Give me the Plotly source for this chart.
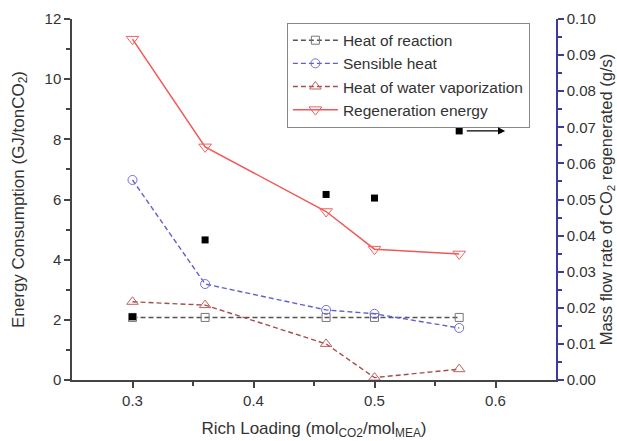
import plotly.graph_objects as go

loading = [0.3, 0.36, 0.46, 0.5, 0.57]
heat_reaction = [2.08, 2.08, 2.08, 2.08, 2.08]
sensible_heat = [6.65, 3.19, 2.33, 2.2, 1.73]
water_vap = [2.6, 2.49, 1.2, 0.08, 0.36]
regen_energy = [11.33, 7.75, 5.6, 4.35, 4.19]
mass_flow = [0.0175, 0.0388, 0.0514, 0.0504, 0.069]

font = "Liberation Sans, Arial, sans-serif"
fig = go.Figure()

dash = "5px,3px"
fig.add_trace(go.Scatter(x=loading, y=heat_reaction, name="Heat of reaction",
    mode="lines+markers", line=dict(color="#555555", dash=dash, width=1.4),
    marker=dict(symbol="square-open", size=8, color="#777777")))
fig.add_trace(go.Scatter(x=loading, y=sensible_heat, name="Sensible heat",
    mode="lines+markers", line=dict(color="#6060d0", dash=dash, width=1.4),
    marker=dict(symbol="circle-open", size=9, color="#7070d8")))
fig.add_trace(go.Scatter(x=loading, y=water_vap, name="Heat of water vaporization",
    mode="lines+markers", line=dict(color="#a84c4c", dash=dash, width=1.4),
    marker=dict(symbol="triangle-up-open", size=10, color="#c06060")))
fig.add_trace(go.Scatter(x=loading, y=regen_energy, name="Regeneration energy",
    mode="lines+markers", line=dict(color="#f05858", width=1.5),
    marker=dict(symbol="triangle-down-open", size=11, color="#f06060")))
fig.add_trace(go.Scatter(x=loading, y=mass_flow, name="Mass flow", yaxis="y2",
    mode="markers", showlegend=False,
    marker=dict(symbol="square", size=7, color="black")))

fig.add_annotation(x=0.608, y=mass_flow[-1], xref="x", yref="y2",
    ax=0.575, ay=mass_flow[-1], axref="x", ayref="y2",
    showarrow=True, arrowhead=2, arrowsize=1.2, arrowwidth=1.2, arrowcolor="black", text="")

tickfont = dict(family=font, size=15, color="#333333")
titlefont = dict(family=font, size=17, color="#333333")
axis_common = dict(showline=True, linecolor="#444444", linewidth=1.5, automargin=False,
                   tickfont=tickfont, showgrid=False, zeroline=False)

fig.update_layout(
    width=617, height=441,
    margin=dict(l=72, r=61, t=19, b=61),
    paper_bgcolor="white", plot_bgcolor="white",
    font=dict(family=font, color="#333333"),
    xaxis=dict(range=[0.25, 0.65], tickvals=[0.3, 0.4, 0.5, 0.6], ticktext=["0.3", "0.4", "0.5", "0.6"],
               ticks="outside", ticklen=6, tickwidth=1.5, tickcolor="#444444",
               minor=dict(tickvals=[0.35, 0.45, 0.55], ticks="outside", ticklen=4, tickcolor="#444444"),
               title=dict(text="Rich Loading (mol<sub>CO2</sub>/mol<sub>MEA</sub>)",
                          font=titlefont, standoff=14),
               **axis_common),
    xaxis2=dict(range=[0.25, 0.65], overlaying="x", side="top", tickvals=[0.3, 0.4, 0.5, 0.6],
                showticklabels=False, ticks="inside", ticklen=6, tickwidth=1.5, tickcolor="#444444",
                minor=dict(tickvals=[0.35, 0.45, 0.55], ticks="inside", ticklen=4, tickcolor="#444444"),
                showline=True, linecolor="#444444", linewidth=1.5, showgrid=False, zeroline=False,
                automargin=False),
    yaxis=dict(range=[0, 12], tickvals=[0, 2, 4, 6, 8, 10, 12],
               ticks="outside", ticklen=6, tickwidth=1.5, tickcolor="#444444",
               minor=dict(tickvals=[1, 3, 5, 7, 9, 11], ticks="outside", ticklen=4, tickcolor="#444444"),
               title=dict(text="Energy Consumption (GJ/tonCO<sub>2</sub>)",
                          font=titlefont, standoff=16),
               **axis_common),
    yaxis2=dict(range=[0, 0.10], overlaying="y", side="right", anchor="x", automargin=False,
                tickvals=[0, 0.01, 0.02, 0.03, 0.04, 0.05, 0.06, 0.07, 0.08, 0.09, 0.10],
                ticktext=["0.00", "0.01", "0.02", "0.03", "0.04", "0.05", "0.06", "0.07", "0.08", "0.09", "0.10"],
                ticks="outside", ticklen=6, tickwidth=1.5, tickcolor="#3a3aa0",
                minor=dict(tickvals=[0.005, 0.015, 0.025, 0.035, 0.045, 0.055, 0.065, 0.075, 0.085, 0.095],
                           ticks="outside", ticklen=4, tickcolor="#3a3aa0"),
                showline=True, linecolor="#3a3aa0", linewidth=1.5,
                tickfont=tickfont, showgrid=False, zeroline=False,
                title=dict(text="Mass flow rate of CO<sub>2</sub> regenerated (g/s)",
                           font=dict(family=font, size=16.5, color="#333333"), standoff=9)),
    legend=dict(x=0.444, y=0.99, xanchor="left", yanchor="top",
                bgcolor="white", bordercolor="#888888", borderwidth=1, itemwidth=45,
                font=dict(family=font, size=15.5, color="#333333"), tracegroupgap=0),
)

fig.write_html("out.html")
